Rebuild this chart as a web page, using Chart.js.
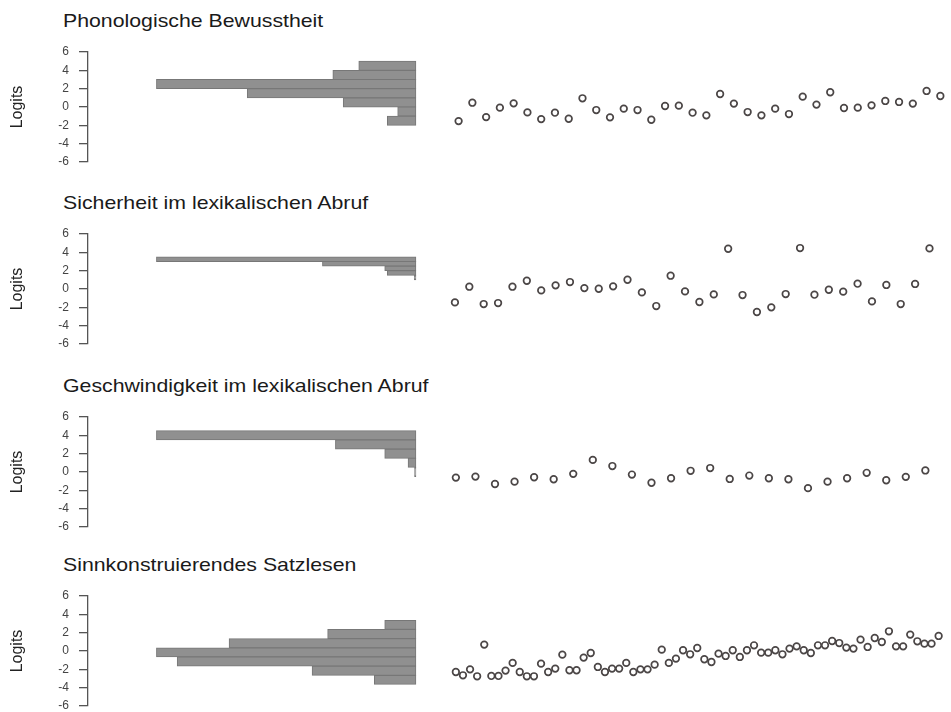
<!DOCTYPE html>
<html>
<head>
    <title>Personen und Items je Bereich</title>
    <style>
        body {
            margin: 0;
            background-color: #ffffff;
            width: 951px;
            height: 712px;
            overflow: hidden;
            position: relative;
            font-family: "Liberation Sans", Arial, sans-serif;
        }

        .panel {
            position: absolute;
            left: 0;
            width: 951px;
            height: 161px;
        }

        .panel-title {
            position: absolute;
            left: 63px;
            top: 0;
            font-size: 19px;
            line-height: 19px;
            color: #1a1a1a;
            white-space: nowrap;
            transform: scaleX(1.12); /* the scan is a bit wider than the font */
            transform-origin: left top;
        }

        .panel canvas {
            position: absolute;
            left: 0;
            top: 31px;
        }
    </style>
    <script src="https://cdn.jsdelivr.net/npm/chart.js"></script>
</head>
<body>
    <div class="panel" id="panel0"><div class="panel-title"></div><canvas width="951" height="130"></canvas></div>
    <div class="panel" id="panel1"><div class="panel-title"></div><canvas width="951" height="130"></canvas></div>
    <div class="panel" id="panel2"><div class="panel-title"></div><canvas width="951" height="130"></canvas></div>
    <div class="panel" id="panel3"><div class="panel-title"></div><canvas width="951" height="130"></canvas></div>
    <script>
        const titles = [
            'Phonologische Bewusstheit',
            'Sicherheit im lexikalischen Abruf',
            'Geschwindigkeit im lexikalischen Abruf',
            'Sinnkonstruierendes Satzlesen'
        ];

        const yTicks = [-6, -4, -2, 0, 2, 4, 6];

        // person distribution: bin centres (Logits) and frequency (% of the largest bin)
        const bins1 = [4.5, 3.5, 2.5, 1.5, 0.5, -0.5, -1.5];
        const freq1 = [22, 32, 100, 65, 28, 7, 11];

        const bins2 = [3.25, 2.75, 2.25, 1.75, 1.25];
        const freq2 = [100, 36, 12, 11, 0.6];

        const bins3 = [4, 3, 2, 1, 0];
        const freq3 = [100, 31, 12, 3, 0.5];

        const bins4 = [2.85, 1.85, 0.85, -0.15, -1.15, -2.15, -3.15];
        const freq4 = [12, 34, 72, 100, 92, 40, 16];

        // item difficulties (Logits), in item order
        const items1 = [-1.54, 0.47, -1.1, -0.07, 0.4, -0.59, -1.32, -0.62, -1.28, 0.95, -0.33, -1.13,
            -0.18, -0.33, -1.39, 0.11, 0.15, -0.62, -0.91, 1.42, 0.37, -0.55, -0.91, -0.18,
            -0.77, 1.13, 0.26, 1.61, -0.11, -0.07, 0.18, 0.66, 0.55, 0.37, 1.75, 1.2];

        const items2 = [-1.46, 0.25, -1.64, -1.53, 0.25, 0.9, -0.15, 0.4, 0.76, 0.1, 0.03, 0.29,
            1.01, -0.37, -1.86, 1.45, -0.26, -1.42, -0.59, 4.39, -0.66, -2.51, -2.0, -0.55,
            4.47, -0.62, -0.08, -0.29, 0.58, -1.35, 0.44, -1.64, 0.55, 4.43];

        const items3 = [-0.61, -0.5, -1.31, -1.05, -0.57, -0.79, -0.2, 1.32, 0.65, -0.28, -1.17, -0.68,
            0.13, 0.43, -0.76, -0.39, -0.68, -0.79, -1.76, -1.05, -0.68, -0.09, -0.9, -0.53, 0.17];

        const items4 = [-2.29, -2.65, -2.0, -2.76, 0.7, -2.72, -2.72, -2.14, -1.3, -2.29, -2.76, -2.76,
            -1.38, -2.29, -1.92, -0.4, -2.1, -2.1, -0.72, -0.22, -1.74, -2.29, -1.92, -1.92,
            -1.3, -2.29, -2.0, -2.0, -1.49, 0.15, -1.3, -0.83, 0.08, -0.36, 0.33, -0.9,
            -1.2, -0.29, -0.54, 0.08, -0.65, 0.08, 0.62, -0.18, -0.18, 0.08, -0.36, 0.26,
            0.51, 0.08, -0.22, 0.62, 0.62, 1.09, 0.87, 0.37, 0.26, 1.24, 0.44, 1.42,
            0.98, 2.15, 0.51, 0.51, 1.79, 1.06, 0.8, 0.8, 1.64];

        Chart.defaults.font.family = '"Liberation Sans", Arial, sans-serif';

        // top of each panel box, and x range of the item plot
        const panels = [
            { top: 11, bins: bins1, freq: freq1, items: items1, xMin: -0.52, xMax: 36.36 },
            { top: 193, bins: bins2, freq: freq2, items: items2, xMin: -0.2, xMax: 35.1 },
            { top: 376, bins: bins3, freq: freq3, items: items3, xMin: 0.07, xMax: 26.02 },
            { top: 555, bins: bins4, freq: freq4, items: items4, xMin: -1.56, xMax: 69.94 }
        ];

        panels.forEach((p, k) => {
            const box = document.getElementById('panel' + k);
            box.style.top = p.top + 'px';
            box.querySelector('.panel-title').textContent = titles[k];

            const ctx = box.querySelector('canvas').getContext('2d');
            new Chart(ctx, {
                type: 'scatter',
                data: {
                    datasets: [
                        {
                            type: 'bar',
                            indexAxis: 'y',
                            xAxisID: 'xh',
                            yAxisID: 'y',
                            data: p.bins.map((b, i) => ({ x: p.freq[i], y: b })),
                            backgroundColor: '#909090',
                            borderColor: '#777777',
                            borderWidth: 1,
                            borderSkipped: false,
                            // the scatter on the same y axis would otherwise halve the bins
                            grouped: false,
                            inflateAmount: 0.4,
                            barPercentage: 1,
                            categoryPercentage: 1
                        },
                        {
                            type: 'scatter',
                            xAxisID: 'xs',
                            yAxisID: 'y',
                            data: p.items.map((v, i) => ({ x: i + 1, y: v })),
                            pointRadius: 3.3,
                            pointBorderWidth: 1.7,
                            pointBorderColor: '#4b4646',
                            pointBackgroundColor: 'rgba(255,255,255,0)'
                        }
                    ]
                },
                options: {
                    responsive: false,
                    animation: false,
                    layout: { padding: { top: 10, bottom: 10, left: 0, right: 0 } },
                    plugins: {
                        legend: { display: false },
                        tooltip: { enabled: false }
                    },
                    scales: {
                        // histogram on the left, items on the right, sharing the width
                        xh: {
                            type: 'linear',
                            axis: 'x',
                            position: 'bottom',
                            display: false,
                            reverse: true,
                            min: -8.4,
                            max: 126.4,
                            stack: 'row',
                            stackWeight: 352
                        },
                        xs: {
                            type: 'linear',
                            axis: 'x',
                            position: 'bottom',
                            display: false,
                            min: p.xMin,
                            max: p.xMax,
                            stack: 'row',
                            stackWeight: 511
                        },
                        y: {
                            type: 'linear',
                            position: 'left',
                            offset: false,
                            min: yTicks[0],
                            max: yTicks[yTicks.length - 1],
                            afterFit: (scale) => {
                                scale.width = 88;
                                // ticks.padding would otherwise also push the plot down
                                scale.paddingTop = 7;
                                scale.paddingBottom = 7;
                            },
                            afterBuildTicks: (scale) => { scale.ticks = yTicks.map(v => ({ value: v })); },
                            ticks: {
                                autoSkip: false,
                                padding: 10,
                                color: '#444444',
                                font: { size: 12 }
                            },
                            grid: {
                                offset: false,
                                drawOnChartArea: false,
                                tickLength: 9,
                                color: '#555555',
                                lineWidth: 1.3
                            },
                            border: { display: true, color: '#555555', width: 1.3 },
                            title: {
                                display: true,
                                text: 'Logits',
                                color: '#222222',
                                font: { size: 16 },
                                padding: { top: 8, bottom: 0 }
                            }
                        }
                    }
                }
            });
        });
    </script>
</body>
</html>
